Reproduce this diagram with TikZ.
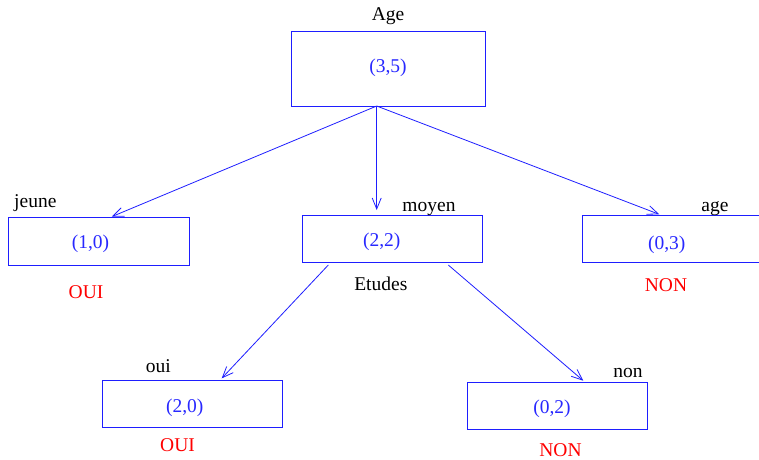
\documentclass[tikz,border=0pt]{standalone}
\usepackage{fontspec}
\setmainfont{Liberation Serif}
\usetikzlibrary{arrows.meta,calc}
\definecolor{lineblue}{RGB}{30,30,255}
\definecolor{valblue}{RGB}{40,40,255}
\definecolor{resred}{RGB}{255,0,0}
\begin{document}
\begin{tikzpicture}[x=1pt,y=-1pt,
  box/.style={draw=lineblue,line width=0.9pt,rectangle,inner sep=0pt,outer sep=0pt},
  lbl/.style={anchor=base,inner sep=0pt,font=\fontsize{19.5}{23}\selectfont},
  val/.style={lbl,text=valblue},
  res/.style={lbl,text=resred},
  arr/.style={draw=lineblue,line width=0.8pt,-{Straight Barb[length=11pt,width=9pt,line width=0.8pt]}}]
\useasboundingbox (0,0) rectangle (759,459);
% boxes
\node[box,minimum width=194pt,minimum height=75pt] (root) at (388,68.5) {};
\node[box,minimum width=180.7pt,minimum height=47.3pt] (jeune) at (98.7,241.3) {};
\node[box,minimum width=179.6pt,minimum height=46.6pt] (moyen) at (392.5,239) {};
\node[box,minimum width=180pt,minimum height=47.3pt] (agebox) at (672,238.7) {};
\node[box,minimum width=180pt,minimum height=47.3pt] (oui) at (192.7,403.7) {};
\node[box,minimum width=180.4pt,minimum height=47pt] (non) at (557.5,405.8) {};
% labels
\node[lbl] (tAge) at (388,20) {Age};
\node[val] (v35) at (388,72) {(3,5)};
\node[lbl] (tjeune) at (35.3,207) {jeune};
\node[val] (v10) at (90.5,248) {(1,0)};
\node[res] (r1) at (86,298) {OUI};
\node[lbl] (tmoyen) at (429,211) {moyen};
\node[val] (v22) at (381.7,246) {(2,2)};
\node[lbl] (tEtudes) at (380.8,290) {Etudes};
\node[lbl] (tage) at (715,211) {age};
\node[val] (v03) at (666.7,249) {(0,3)};
\node[res] (r2) at (666,291.7) {NON};
\node[lbl] (toui) at (158.3,372.7) {oui};
\node[val] (v20) at (184.7,412.7) {(2,0)};
\node[res] (r3) at (177.5,451.7) {OUI};
\node[lbl] (tnon) at (628,377.3) {non};
\node[val] (v02) at (552,413.3) {(0,2)};
\node[res] (r4) at (560.5,456) {NON};
% connectors
\draw[arr] ($(root.south)+(-11.3,0)$) -- ($(jeune.north west)+(103.4,-1)$);
\draw[arr] ($(root.south)+(-11.3,0)$) -- ($(moyen.north west)+(74,-5.7)$);
\draw[arr] ($(root.south)+(-11.3,0)$) -- ($(agebox.north west)+(77.3,-0.7)$);
\draw[arr] ($(moyen.south west)+(25.6,2.7)$) -- ($(oui.north west)+(119,-1.7)$);
\draw[arr] ($(moyen.south west)+(145.6,2.7)$) -- ($(non.north west)+(116,-1.6)$);
\end{tikzpicture}
\end{document}
